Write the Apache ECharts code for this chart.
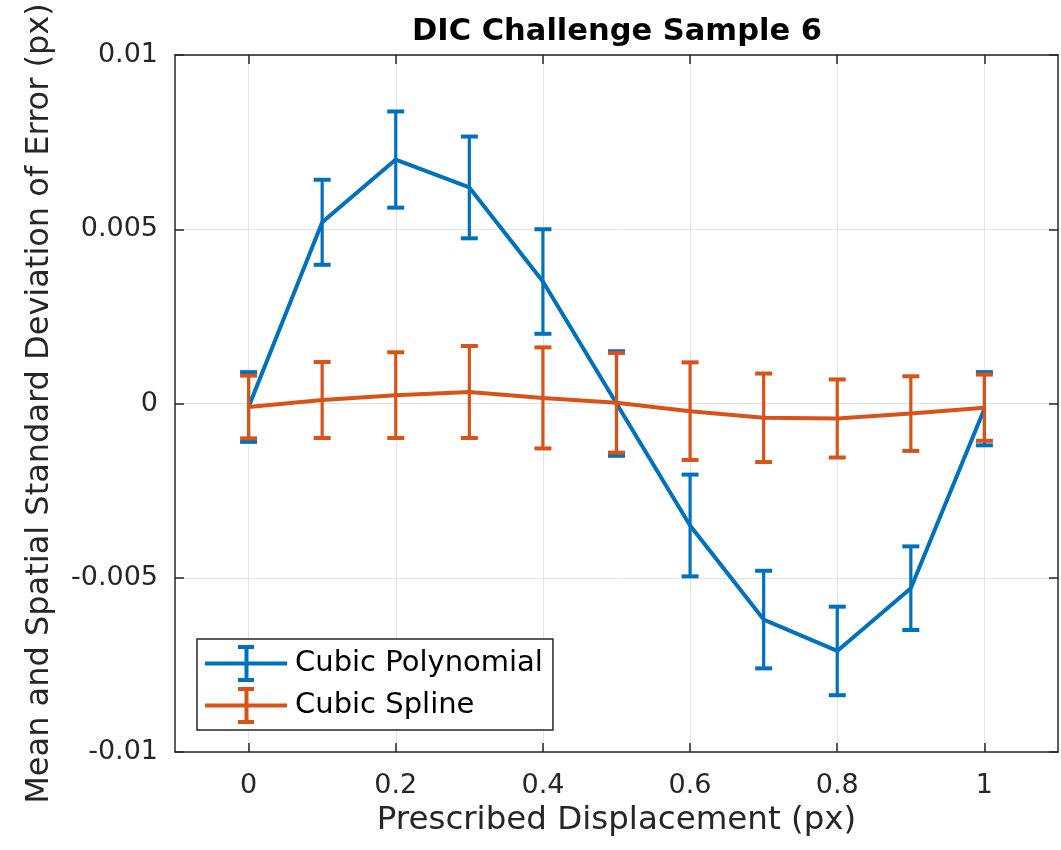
<!DOCTYPE html>
<html>
<head>
<meta charset="utf-8">
<script src="https://cdn.jsdelivr.net/npm/echarts@6/dist/echarts.min.js"></script>
<style>html,body{margin:0;padding:0;background:#fff}#c{width:1061px;height:850px}</style>
</head>
<body>
<div id="c"></div>
<script>
const xValues = [0, 0.1, 0.2, 0.3, 0.4, 0.5, 0.6, 0.7, 0.8, 0.9, 1.0];
const polyMean = [-0.0001, 0.0052, 0.0070, 0.0062, 0.0035, 0.0000, -0.0035, -0.0062, -0.0071, -0.0053, -0.00015];
const polyErr = [0.0010, 0.00122, 0.00138, 0.00146, 0.0015, 0.0015, 0.00146, 0.0014, 0.00127, 0.0012, 0.00105];
const splineMean = [-0.0001, 0.0001, 0.00024, 0.00033, 0.00016, 0.00002, -0.00022, -0.00041, -0.00043, -0.00029, -0.00012];
const splineErr = [0.0009, 0.00109, 0.00123, 0.00132, 0.00145, 0.00143, 0.0014, 0.00127, 0.00112, 0.00107, 0.00095];
const xTicks = [0, 0.2, 0.4, 0.6, 0.8, 1];
const seriesNames = ['Cubic Polynomial', 'Cubic Spline'];
const colors = ['#0072BD', '#D95319'];

const FONT = "'DejaVu Sans', 'Liberation Sans', Arial, sans-serif";
const AX = '#262626';

function lineData(mean) { return xValues.map((x, i) => [x, mean[i]]); }
function errData(mean, err) { return xValues.map((x, i) => [x, mean[i] - err[i], mean[i] + err[i]]); }

function errSeries(name, mean, err, color, z) {
  return {
    type: 'custom', name: name, z: z, silent: true,
    data: errData(mean, err),
    encode: { x: 0, y: [1, 2] },
    renderItem: function (params, api) {
      const x = api.value(0);
      const lo = api.coord([x, api.value(1)]);
      const hi = api.coord([x, api.value(2)]);
      const hw = 8.5;
      const st = { stroke: color, lineWidth: 3.2, fill: null };
      const cst = { stroke: color, lineWidth: 4, fill: null };
      return {
        type: 'group',
        children: [
          { type: 'line', shape: { x1: lo[0], y1: lo[1], x2: hi[0], y2: hi[1] }, style: st },
          { type: 'line', shape: { x1: lo[0] - hw, y1: lo[1], x2: lo[0] + hw, y2: lo[1] }, style: cst },
          { type: 'line', shape: { x1: hi[0] - hw, y1: hi[1], x2: hi[0] + hw, y2: hi[1] }, style: cst }
        ]
      };
    }
  };
}

const iconPath = 'path://M0 16.5H82V20.5H0Z M39.5 0H43.5V37H39.5Z M33 0H49V4H33Z M33 33H49V37H33Z';

const chart = echarts.init(document.getElementById('c'), null, { renderer: 'canvas' });
chart.setOption({
  animation: false,
  backgroundColor: '#fff',
  textStyle: { fontFamily: FONT },
  title: {
    text: 'DIC Challenge Sample 6',
    left: 612, top: 12, textAlign: 'center',
    textStyle: { fontFamily: FONT, fontSize: 30.5, fontWeight: 'bold', color: '#000' }
  },
  grid: { left: 175, right: 3, top: 55, bottom: 98, containLabel: false },
  legend: {
    orient: 'vertical', left: 197, top: 639,
    padding: [6, 10, 6, 8],
    itemWidth: 82, itemHeight: 37, itemGap: 5,
    borderColor: AX, borderWidth: 1.5, backgroundColor: '#fff',
    textStyle: { fontFamily: FONT, fontSize: 29, color: '#000', padding: [0, 0, 0, 3] },
    data: [
      { name: seriesNames[0], icon: iconPath },
      { name: seriesNames[1], icon: iconPath }
    ]
  },
  xAxis: [
    {
      type: 'value', min: -0.1, max: 1.1, position: 'bottom',
      name: 'Prescribed Displacement (px)', nameLocation: 'middle', nameGap: 43,
      nameTextStyle: { fontFamily: FONT, fontSize: 32.5, color: '#262626' },
      axisLine: { show: true, onZero: false, lineStyle: { color: AX, width: 1.5 } },
      axisTick: { show: true, inside: true, length: 9, customValues: xTicks, lineStyle: { color: AX, width: 1.5 } },
      axisLabel: { customValues: xTicks, margin: 20, fontFamily: FONT, fontSize: 27, color: '#262626' },
      splitLine: { show: true, lineStyle: { color: '#e3e3e3', width: 1 } }
    },
    {
      type: 'value', min: -0.1, max: 1.1, position: 'top',
      axisLine: { show: true, onZero: false, lineStyle: { color: AX, width: 1.5 } },
      axisTick: { show: true, inside: true, length: 9, customValues: xTicks, lineStyle: { color: AX, width: 1.5 } },
      axisLabel: { show: false },
      splitLine: { show: false }
    }
  ],
  yAxis: [
    {
      type: 'value', min: -0.01, max: 0.01, interval: 0.005, position: 'left',
      name: 'Mean and Spatial Standard Deviation of Error (px)', nameLocation: 'middle', nameGap: 119,
      nameTextStyle: { fontFamily: FONT, fontSize: 32, color: '#262626' },
      axisLine: { show: true, onZero: false, lineStyle: { color: AX, width: 1.5 } },
      axisTick: { show: true, inside: true, length: 9, lineStyle: { color: AX, width: 1.5 } },
      axisLabel: { margin: 17, fontFamily: FONT, fontSize: 27, color: '#262626' },
      splitLine: { show: true, lineStyle: { color: '#e3e3e3', width: 1 } }
    },
    {
      type: 'value', min: -0.01, max: 0.01, interval: 0.005, position: 'right',
      axisLine: { show: true, onZero: false, lineStyle: { color: AX, width: 1.5 } },
      axisTick: { show: true, inside: true, length: 9, lineStyle: { color: AX, width: 1.5 } },
      axisLabel: { show: false },
      splitLine: { show: false }
    }
  ],
  series: [
    {
      type: 'line', name: seriesNames[0], data: lineData(polyMean), z: 3,
      symbol: 'none', color: colors[0], lineStyle: { width: 4, color: colors[0] }
    },
    errSeries('polyErr', polyMean, polyErr, colors[0], 4),
    {
      type: 'line', name: seriesNames[1], data: lineData(splineMean), z: 5,
      symbol: 'none', color: colors[1], lineStyle: { width: 4, color: colors[1] }
    },
    errSeries('splineErr', splineMean, splineErr, colors[1], 6)
  ]
});
</script>
</body>
</html>
